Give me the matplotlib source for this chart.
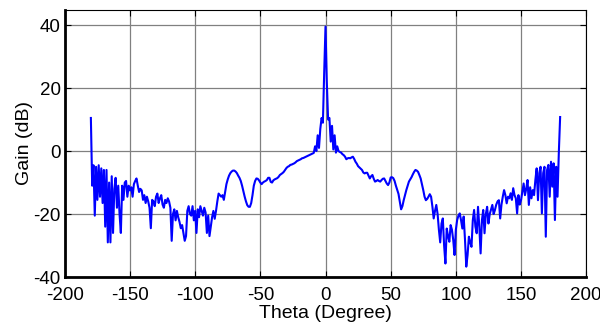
import numpy as np
import matplotlib
matplotlib.use("Agg")
import matplotlib.pyplot as plt

plt.rcParams['font.family'] = ['Liberation Sans', 'DejaVu Sans']
plt.rcParams['axes.unicode_minus'] = False

# angle grid, 1 degree steps
theta = np.arange(-180, 181)

gain_left = [
    10.5, -11, -4.5, -20.5, -5, -15.5, -4.5, -14.5, -5.5, -16.5,      # -180..-171
    -6, -24, -6, -29, -10, -29, -8, -26, -12, -8.5,                 # -170..-161
    -18, -11, -20, -26, -11, -15.5, -10, -9.5, -14.5, -11,          # -160..-151
    -12.5, -11.5, -14.5, -10.5, -9.5, -8.7, -11, -13, -12, -12.5,   # -150..-141
    -15.5, -14, -16.5, -14.5, -16, -18, -24.5, -15.5, -16, -17.5,   # -140..-131
    -14.5, -13.5, -16.5, -15, -14, -17, -18, -15.5, -16.5, -15,     # -130..-121
    -16, -18, -28.5, -20, -18.5, -22, -19, -21, -22.5, -24.5,       # -120..-111
    -23.5, -26, -28.5, -27, -19, -17.5, -20, -20.5, -17.5, -22,     # -110..-101
    -19, -26, -18.5, -21, -17.5, -19, -20.5, -18, -19.5, -26,       # -100..-91
]
gain_mid = [
    -20.5, -27, -24, -21, -19, -21.5, -19, -16, -13.5, -14,         # -90..-81
    -14.5, -14, -15.5, -13, -10.5, -9, -7.8, -7, -6.5, -6.2,        # -80..-71
    -6.2, -6.5, -7, -7.8, -8.5, -9.5, -11, -12.8, -14.5, -16,       # -70..-61
    -17.2, -17.7, -17.7, -16.5, -14, -11, -9.5, -8.7, -8.8, -9.3,   # -60..-51
    -10, -10.5, -10, -9.7, -9.5, -9.2, -8.5, -8.5, -9.8, -10,       # -50..-41
    -9.3, -9, -8.8, -8.6, -8.2, -7.6, -7.3, -7, -6.6, -6,           # -40..-31
    -5.4, -5, -4.8, -4.4, -4.3, -4.1, -3.9, -3.6, -3.2, -3,         # -30..-21
    -2.8, -2.6, -2.3, -2.2, -2, -1.8, -1.6, -1.4, -1.2, -1,         # -20..-11
    -0.8, -0.6, 1.5, 0, 5, 1, 7, 10.5, 9, 25,                       # -10..-1
    39.5,                                                           # 0
    22, 10, 10.5, 3, 8, 0.5, 5, -0.5, 1.5, 0,                       # 1..10
    -0.3, -0.5, -1, -1.3, -1.8, -2.6, -2.3, -2.2, -2.3, -2,         # 11..20
    -1.8, -2.5, -3.4, -4, -4.8, -5.2, -5.6, -6, -6.8, -7.1,         # 21..30
    -6.9, -6.9, -7.8, -8.7, -8, -7.6, -8.8, -9.7, -9.5, -9.2,       # 31..40
    -9.5, -9.7, -9.2, -8.8, -8.7, -9.5, -10.3, -10.8, -10, -8.4,    # 41..50
    -8.3, -8.6, -9.5, -11, -12.3, -13.6, -16, -18.5, -17.5, -15.6,  # 51..60
    -14, -12.4, -11, -9.7, -9, -8.3, -7.4, -6.6, -6, -6.2,          # 61..70
    -6.6, -7.6, -8.7, -10.5, -12.4, -14.5, -15.6, -15.2, -14.5, -13.7,  # 71..80
]
gain_right = [
    -14.5, -17.6, -21.4, -19, -17.1, -20, -25, -29, -23, -21.4,     # 81..90
    -30, -35.7, -24.6, -27, -28.8, -23.5, -25, -28.3, -33, -25,     # 91..100
    -21.9, -20.5, -19.8, -22, -24.6, -20.8, -28, -36.7, -33, -27.2, # 101..110
    -29, -30.4, -22, -18.7, -24, -26.1, -17.7, -24, -32.5, -22,     # 111..120
    -18.7, -26.1, -20, -17.7, -23, -20, -18.5, -17.1, -20, -18.7,   # 121..130
    -17, -16, -15.6, -21.4, -17, -14.5, -12.4, -14, -16.6, -14.5,   # 131..140
    -15, -13.4, -15.5, -11.8, -14, -15, -19.8, -14, -17, -15.6,     # 141..150
    -13, -10.3, -14, -12, -9.2, -17.1, -11.5, -15, -12.4, -14,      # 151..160
    -9.2, -5.5, -15.6, -7, -5, -19.8, -7, -5, -27.2, -6,            # 161..170
    -4.4, -14.5, -3.4, -11.3, -3.9, -21.9, -5, -14.5, -0.5, 10.8,   # 171..180
]
gain = np.array(gain_left + gain_mid + gain_right)

xticks = [-200, -150, -100, -50, 0, 50, 100, 150, 200]
yticks = [-40, -20, 0, 20, 40]

fig = plt.figure(figsize=(6.0, 3.31), dpi=100)
ax = fig.add_axes([0.108, 0.163, 0.869, 0.807])

ax.plot(theta, gain, color="#0000ff", lw=1.5)

ax.set_xlim(-200, 200)
ax.set_ylim(-40, 44.8)
ax.set_xticks(xticks)
ax.set_yticks(yticks)
ax.grid(True, color="#808080", lw=0.9)
ax.set_axisbelow(True)
ax.tick_params(direction="in", length=4, top=True, right=True, labelsize=13.5)
ax.tick_params(axis="x", pad=7)
ax.tick_params(axis="y", pad=3)

for s in ["left", "bottom"]:
    ax.spines[s].set_linewidth(2.0)
for s in ["top", "right"]:
    ax.spines[s].set_linewidth(0.8)

ax.set_xlabel("Theta (Degree)", fontsize=14, labelpad=1)
ax.set_ylabel("Gain (dB)", fontsize=14, labelpad=0)

fig.savefig("out.png", dpi=100)
